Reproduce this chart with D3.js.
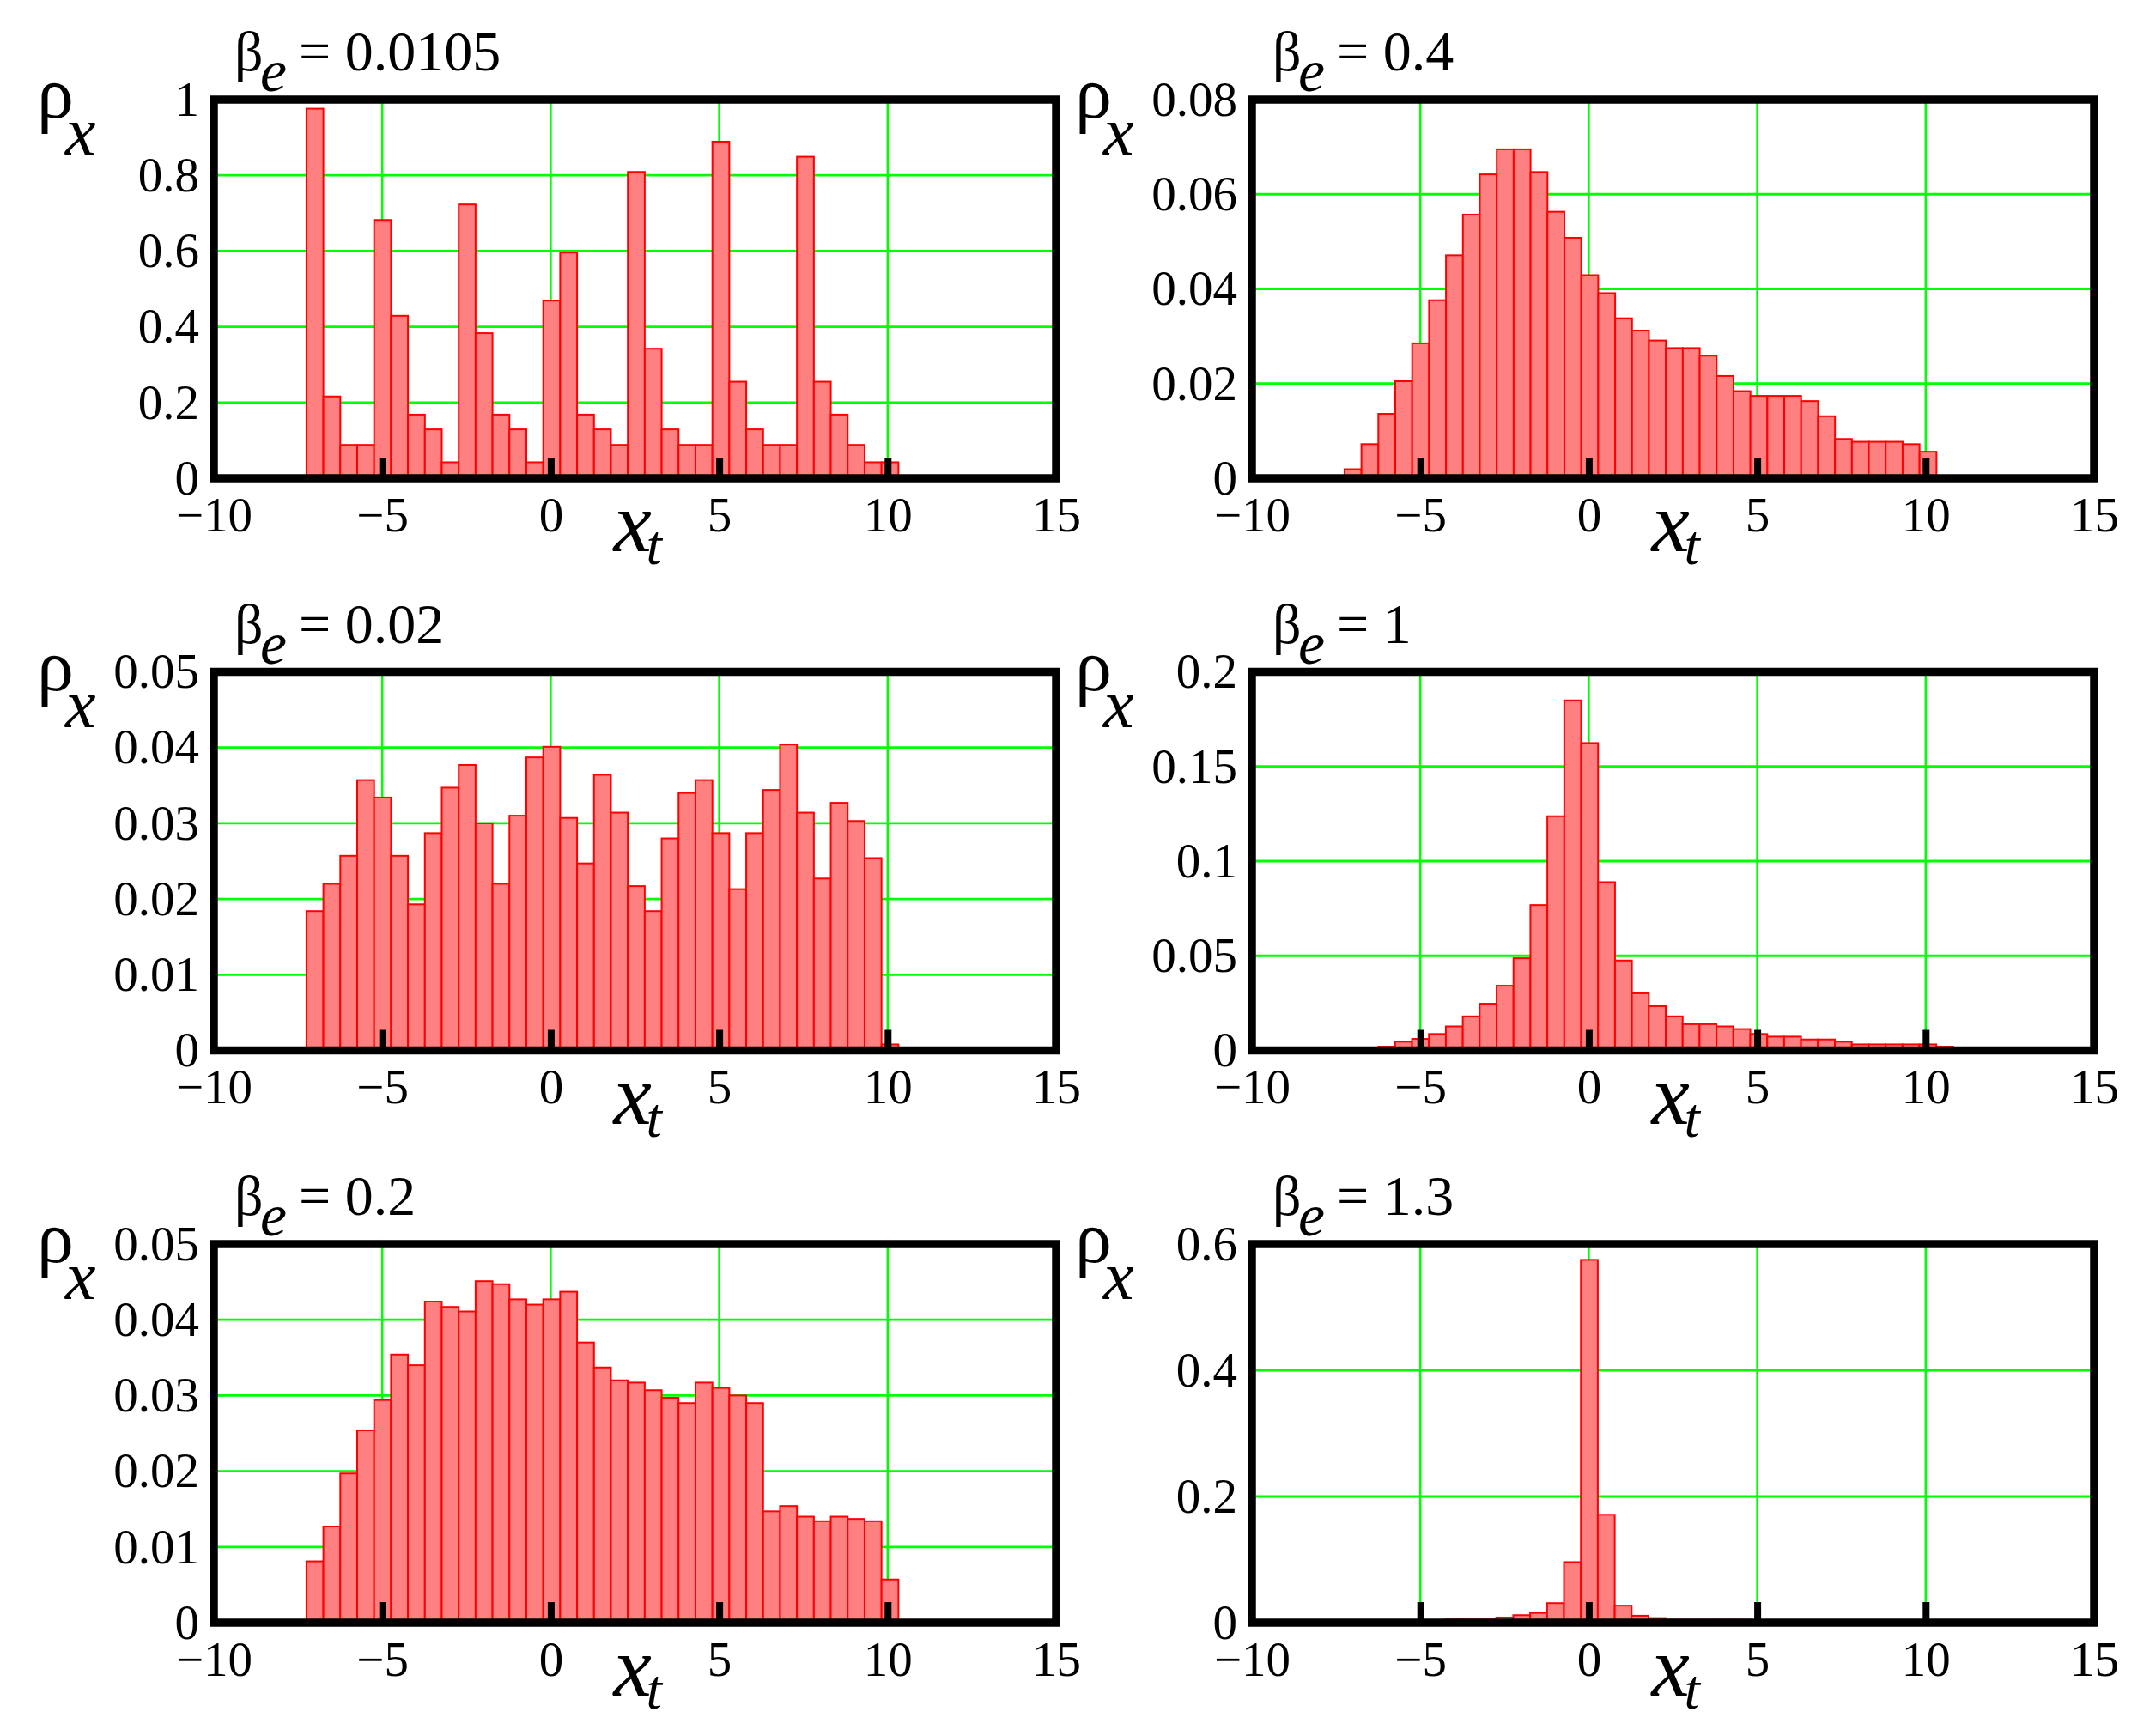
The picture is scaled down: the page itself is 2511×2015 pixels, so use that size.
<!DOCTYPE html>
<html><head><meta charset="utf-8">
<script src="https://cdn.jsdelivr.net/npm/d3@7"></script>
<style>body{margin:0;background:#fff} svg{display:block} .it{font-synthesis:none}</style>
</head><body>
<script>
// ---------------- data ----------------
const betaLabels = ["0.0105", "0.4", "0.02", "1", "0.2", "1.3"];
const binStarts = [-7.25, -7.25, -7.25, -6.25, -7.25, -4.25];
const binWidth = 0.502;

const rhoBeta00105 = [0.976,0.216,0.088,0.088,0.682,0.429,0.168,0.129,0.042,0.723,0.383,0.168,0.129,0.042,0.469,0.596,0.168,0.129,0.088,0.809,0.342,0.129,0.088,0.088,0.889,0.255,0.129,0.088,0.088,0.849,0.255,0.168,0.088,0.042,0.042];
const rhoBeta04 = [0.0019,0.0072,0.0136,0.0205,0.0285,0.0376,0.0471,0.0557,0.0642,0.0695,0.0695,0.0647,0.0563,0.0508,0.0429,0.0391,0.0338,0.0312,0.0291,0.0275,0.0275,0.0259,0.0216,0.0184,0.0174,0.0174,0.0174,0.0163,0.0131,0.0083,0.0077,0.0077,0.0077,0.0072,0.0056];
const rhoBeta002 = [0.0184,0.0220,0.0257,0.0357,0.0334,0.0257,0.0193,0.0287,0.0347,0.0377,0.0300,0.0220,0.0310,0.0387,0.0401,0.0307,0.0247,0.0364,0.0314,0.0217,0.0184,0.0280,0.0340,0.0357,0.0287,0.0213,0.0287,0.0344,0.0404,0.0314,0.0227,0.0327,0.0303,0.0254,0.0008];
const rhoBeta1 = [0.0020,0.0046,0.0061,0.0087,0.0127,0.0180,0.0247,0.0342,0.0487,0.0768,0.1237,0.1849,0.1624,0.0889,0.0475,0.0302,0.0234,0.0180,0.0139,0.0139,0.0127,0.0113,0.0087,0.0073,0.0073,0.0058,0.0058,0.0046,0.0032,0.0032,0.0032,0.0032,0.0032,0.0020];
const rhoBeta02 = [0.0081,0.0127,0.0197,0.0254,0.0294,0.0354,0.0340,0.0424,0.0417,0.0411,0.0451,0.0447,0.0427,0.0420,0.0427,0.0437,0.0370,0.0337,0.0320,0.0317,0.0307,0.0297,0.0290,0.0317,0.0310,0.0300,0.0290,0.0147,0.0154,0.0140,0.0134,0.0140,0.0137,0.0134,0.0057];
const rhoBeta13 = [0.005,0.005,0.005,0.0082,0.0119,0.0155,0.031,0.096,0.575,0.171,0.027,0.011,0.0073,0.0046,0.0046,0.0046,0.0046,0.0046];

const seriesList = [rhoBeta00105, rhoBeta04, rhoBeta002, rhoBeta1, rhoBeta02, rhoBeta13];
const yMaxes = [1, 0.08, 0.05, 0.2, 0.05, 0.6];
const yTickValues = [
  [0, 0.2, 0.4, 0.6, 0.8, 1],
  [0, 0.02, 0.04, 0.06, 0.08],
  [0, 0.01, 0.02, 0.03, 0.04, 0.05],
  [0, 0.05, 0.1, 0.15, 0.2],
  [0, 0.01, 0.02, 0.03, 0.04, 0.05],
  [0, 0.2, 0.4, 0.6]
];
const yTickLabels = [
  ["0", "0.2", "0.4", "0.6", "0.8", "1"],
  ["0", "0.02", "0.04", "0.06", "0.08"],
  ["0", "0.01", "0.02", "0.03", "0.04", "0.05"],
  ["0", "0.05", "0.1", "0.15", "0.2"],
  ["0", "0.01", "0.02", "0.03", "0.04", "0.05"],
  ["0", "0.2", "0.4", "0.6"]
];
const xDomain = [-10, 15];
const xTickValues = [-10, -5, 0, 5, 10, 15];
const xTickLabels = ["\u221210", "\u22125", "0", "5", "10", "15"];
const xGridValues = [-5, 0, 5, 10];

// ---------------- layout ----------------
const WIDTH = 2511, HEIGHT = 2015;
const colLeft = [249, 1458];
const rowTop = [116, 782.5, 1449];
const PW = 981, PH = 441;
const FONT = "'Liberation Serif', 'Times New Roman', serif";
const IFONT = "'Liberation Serif'";
const GREEN = "#00ff00";

const svg = d3.select("body").append("svg")
  .attr("width", WIDTH).attr("height", HEIGHT)
  .style("background", "#fff");

seriesList.forEach((vals, p) => {
  const col = p % 2, row = Math.floor(p / 2);
  const g = svg.append("g").attr("transform", `translate(${colLeft[col]},${rowTop[row]})`);
  const x = d3.scaleLinear().domain(xDomain).range([0, PW]);
  const y = d3.scaleLinear().domain([0, yMaxes[p]]).range([PH, 0]);

  // gridlines
  g.append("g").selectAll("line.gx").data(xGridValues).join("line")
    .attr("x1", d => x(d)).attr("x2", d => x(d))
    .attr("y1", 0).attr("y2", PH)
    .attr("stroke", GREEN).attr("stroke-width", 2.5);
  const hGrid = yTickValues[p].filter(v => v > 0 && v < yMaxes[p] - 1e-9);
  g.append("g").selectAll("line.gy").data(hGrid).join("line")
    .attr("x1", 0).attr("x2", PW)
    .attr("y1", d => y(d)).attr("y2", d => y(d))
    .attr("stroke", GREEN).attr("stroke-width", 2.8);

  // bars
  const bins = vals.map((v, i) => ({
    x0: binStarts[p] + i * binWidth,
    x1: binStarts[p] + (i + 1) * binWidth,
    v
  }));
  g.append("g").selectAll("rect").data(bins).join("rect")
    .attr("x", d => x(d.x0))
    .attr("width", d => x(d.x1) - x(d.x0))
    .attr("y", d => y(d.v))
    .attr("height", d => PH - y(d.v))
    .attr("fill", "#ff8080")
    .attr("stroke", "#ff0000")
    .attr("stroke-width", 2);

  // inner tick marks (bottom)
  const tickAxis = g.append("g").attr("transform", `translate(0,${PH})`)
    .call(d3.axisBottom(x).tickValues(xGridValues).tickSize(-24).tickFormat(""));
  tickAxis.select(".domain").remove();
  tickAxis.selectAll("line").attr("stroke", "#000").attr("stroke-width", 8);

  // frame
  g.append("rect").attr("x", 0).attr("y", 0).attr("width", PW).attr("height", PH)
    .attr("fill", "none").attr("stroke", "#000").attr("stroke-width", 9.5);

  // x tick labels
  const xa = g.append("g").attr("transform", `translate(0,${PH})`)
    .call(d3.axisBottom(x).tickValues(xTickValues)
      .tickFormat((d, i) => xTickLabels[i]).tickSize(0).tickPadding(21.5));
  xa.select(".domain").remove();
  xa.selectAll("text").attr("font-family", FONT).attr("font-size", 57).attr("fill", "#000");

  // y tick labels
  const ya = g.append("g")
    .call(d3.axisLeft(y).tickValues(yTickValues[p])
      .tickFormat((d, i) => yTickLabels[p][i]).tickSize(0).tickPadding(17));
  ya.select(".domain").remove();
  ya.selectAll("text").attr("font-family", FONT).attr("font-size", 57).attr("fill", "#000");

  // title  beta_e = value
  g.append("text").attr("x", 24).attr("y", -34)
    .attr("font-family", FONT).attr("font-size", 66).text("\u03B2");
  g.append("text").attr("class", "it").attr("x", 54).attr("y", -10)
    .attr("font-family", IFONT).attr("font-style", "italic").attr("font-size", 70).text("e");
  g.append("text").attr("x", 99).attr("y", -34)
    .attr("font-family", FONT).attr("font-size", 66).text("= " + betaLabels[p]);

  // y label rho_x
  g.append("text").attr("x", -206).attr("y", 21)
    .attr("font-family", FONT).attr("font-size", 86).text("\u03C1");
  g.append("text").attr("class", "it").attr("x", -173).attr("y", 64)
    .attr("font-family", IFONT).attr("font-style", "italic").attr("font-size", 80).text("x");

  // x label x_t
  g.append("text").attr("class", "it").attr("x", PW / 2 - 25).attr("y", PH + 85)
    .attr("font-family", IFONT).attr("font-style", "italic").attr("font-size", 100).text("x");
  g.append("text").attr("class", "it").attr("x", PW / 2 + 13).attr("y", PH + 100)
    .attr("font-family", IFONT).attr("font-style", "italic").attr("font-size", 66).text("t");
});
</script>
</body></html>
